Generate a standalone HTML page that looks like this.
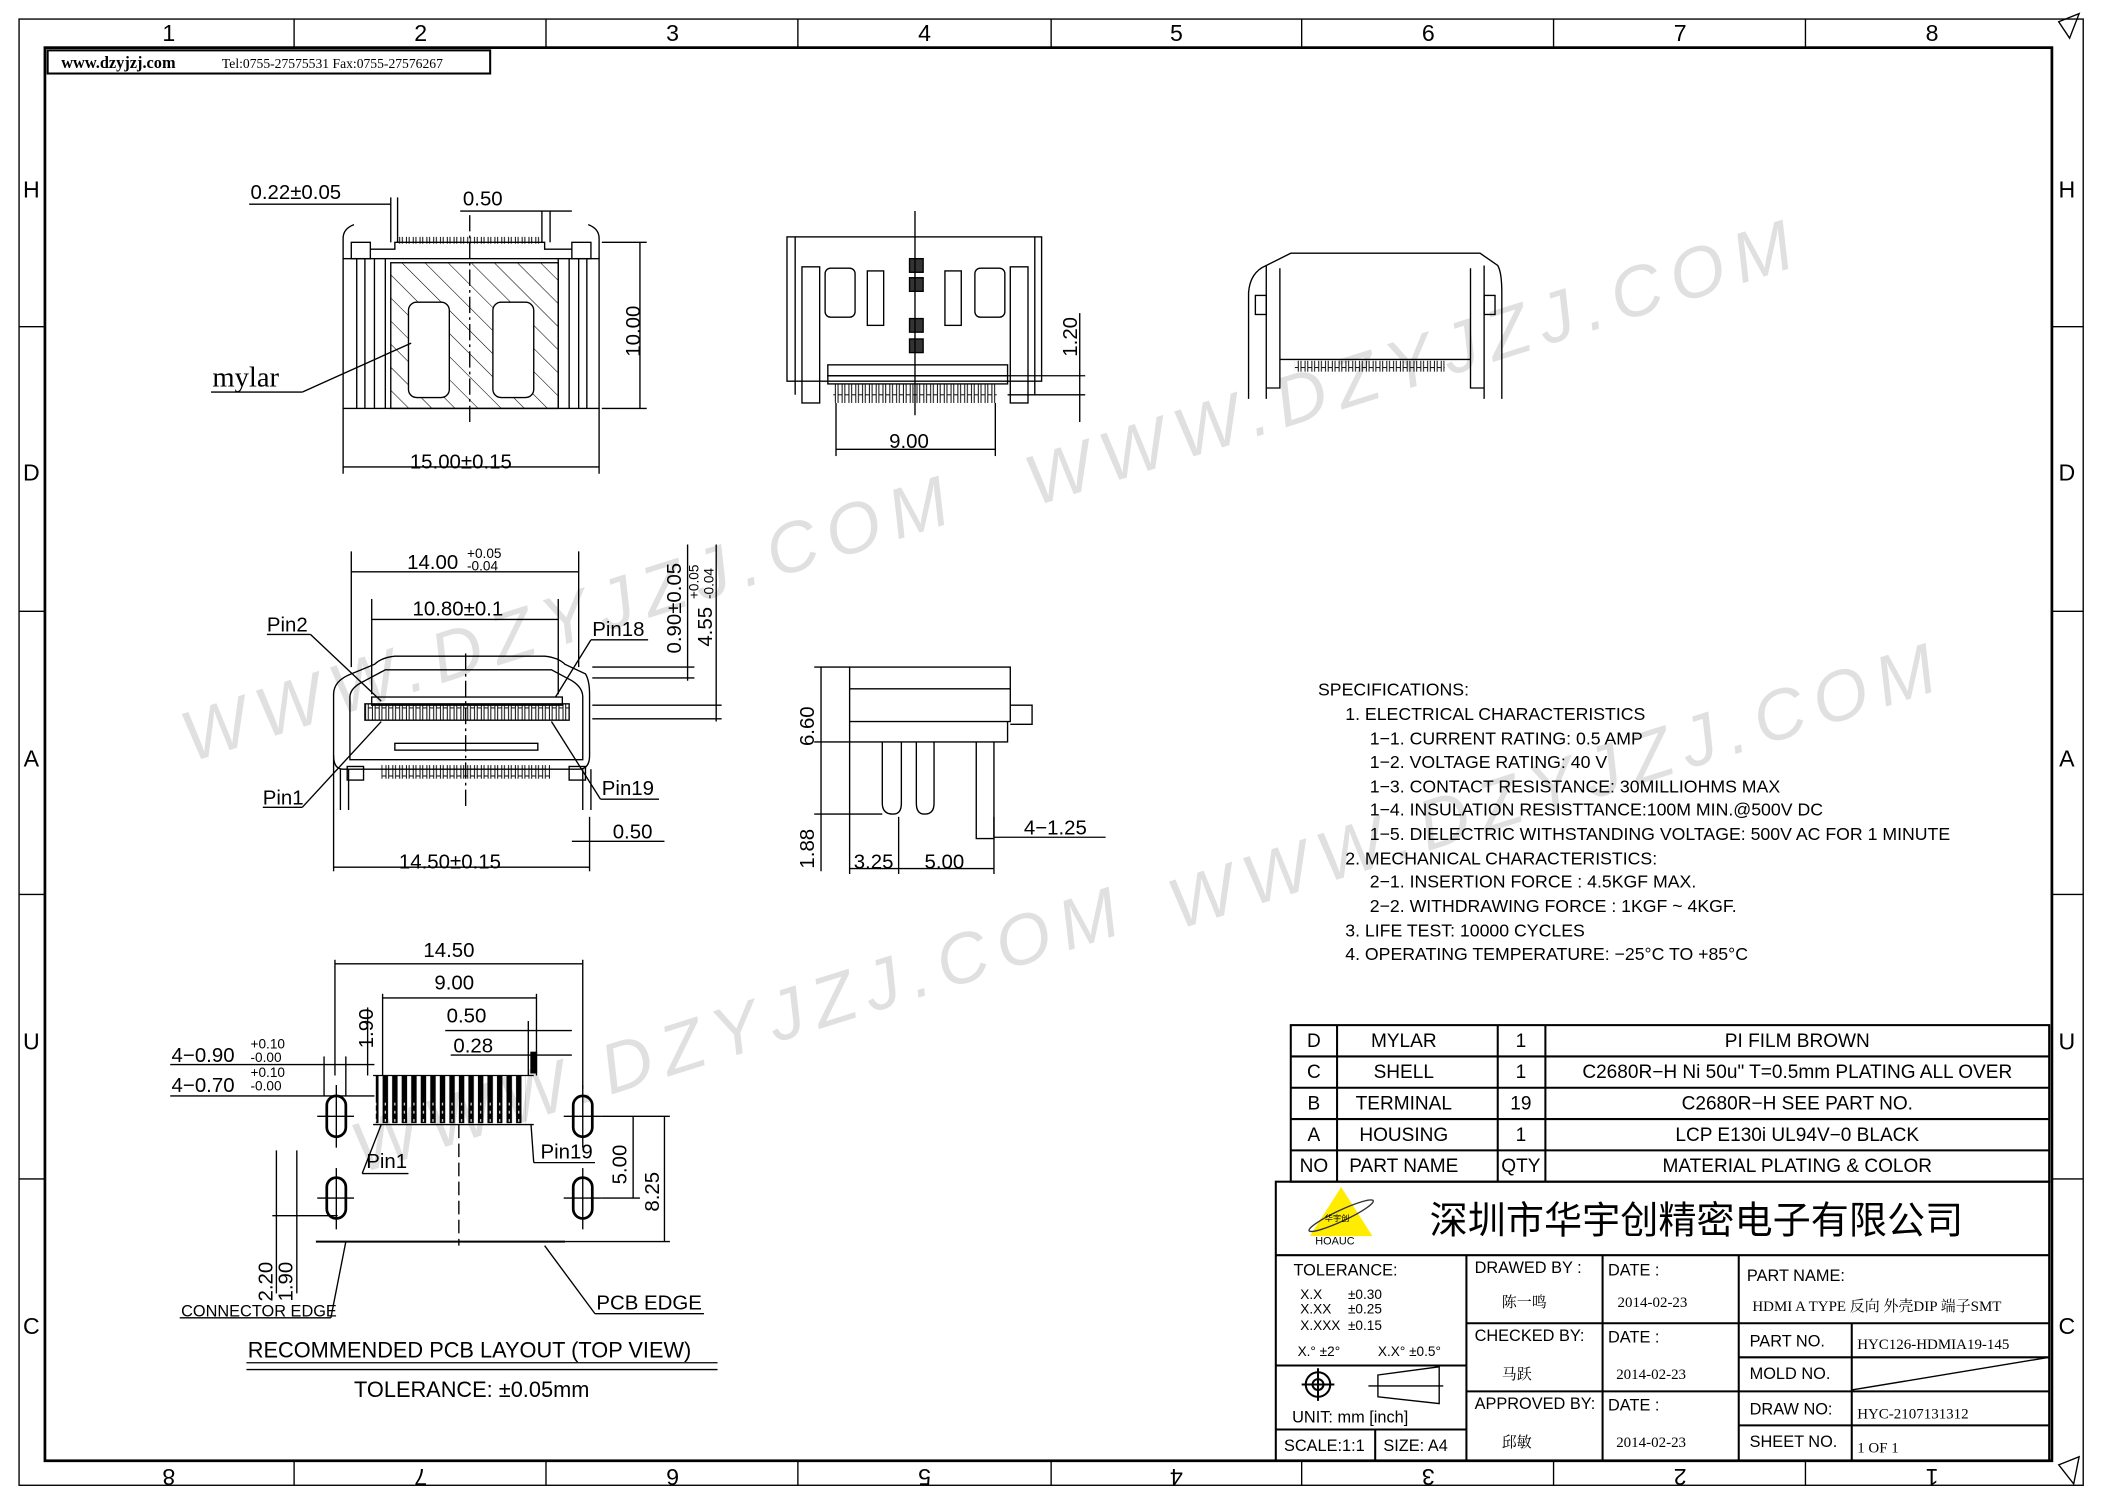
<!DOCTYPE html>
<html><head><meta charset="utf-8"><style>
html,body{margin:0;padding:0;background:#fff}
svg{display:block}
text{font-family:"Liberation Sans","Noto Sans CJK SC",sans-serif;fill:#000}
.s{font-family:"Liberation Serif","Noto Serif CJK SC",serif}
.wm{font-family:"Liberation Sans",sans-serif;font-style:italic;fill:#e0e0e0;font-size:52px;letter-spacing:8px}
</style></head><body>
<svg width="2105" height="1488" viewBox="0 0 1546 1093" preserveAspectRatio="none" xmlns="http://www.w3.org/2000/svg">
<defs>
<pattern id="hatch" width="12" height="12" patternUnits="userSpaceOnUse" patternTransform="rotate(-45)"><line x1="0" y1="0" x2="0" y2="12" stroke="#000" stroke-width="0.8"/></pattern>
<pattern id="teeth" width="5" height="10" patternUnits="userSpaceOnUse"><rect x="0.5" y="0" width="3" height="10" fill="none" stroke="#000" stroke-width="0.7"/></pattern>
<pattern id="pins" width="7" height="40" patternUnits="userSpaceOnUse"><rect x="1" y="0" width="4" height="40" fill="#000"/><line x1="3" y1="10" x2="3" y2="30" stroke="#fff" stroke-dasharray="2 4" stroke-width="0.8"/></pattern>
</defs>
<rect width="1546" height="1093" fill="#fff"/>
<g>
<text class="wm" transform="translate(760,372) rotate(-17.5)">WWW.DZYJZJ.COM</text>
<text class="wm" transform="translate(140,560) rotate(-17.5)">WWW.DZYJZJ.COM</text>
<text class="wm" transform="translate(865,683) rotate(-17.5)">WWW.DZYJZJ.COM</text>
<text class="wm" transform="translate(265,862) rotate(-17.5)">WWW.DZYJZJ.COM</text>
</g>
<g fill="none" stroke="#000">
<rect x="14" y="14" width="1516" height="1077" stroke-width="1"/>
<rect x="33" y="35" width="1474" height="1038" stroke-width="2"/>
<rect x="35" y="37" width="325" height="17" stroke-width="1.5"/>
</g>
<text class="s" x="45" y="50" font-size="12" font-weight="bold">www.dzyjzj.com</text>
<text class="s" x="163" y="50" font-size="10">Tel:0755-27575531  Fax:0755-27576267</text>
<g stroke="#000" stroke-width="1">
<line x1="216" y1="14" x2="216" y2="35"/><line x1="401" y1="14" x2="401" y2="35"/><line x1="586" y1="14" x2="586" y2="35"/><line x1="772" y1="14" x2="772" y2="35"/><line x1="956" y1="14" x2="956" y2="35"/><line x1="1141" y1="14" x2="1141" y2="35"/><line x1="1326" y1="14" x2="1326" y2="35"/>
<line x1="216" y1="1073" x2="216" y2="1091"/><line x1="401" y1="1073" x2="401" y2="1091"/><line x1="586" y1="1073" x2="586" y2="1091"/><line x1="772" y1="1073" x2="772" y2="1091"/><line x1="956" y1="1073" x2="956" y2="1091"/><line x1="1141" y1="1073" x2="1141" y2="1091"/><line x1="1326" y1="1073" x2="1326" y2="1091"/>
<line x1="14" y1="240" x2="33" y2="240"/><line x1="14" y1="449" x2="33" y2="449"/><line x1="14" y1="657" x2="33" y2="657"/><line x1="14" y1="866" x2="33" y2="866"/>
<line x1="1507" y1="240" x2="1530" y2="240"/><line x1="1507" y1="449" x2="1530" y2="449"/><line x1="1507" y1="657" x2="1530" y2="657"/><line x1="1507" y1="866" x2="1530" y2="866"/>
</g>
<polygon points="1512,16 1527,10 1520,28" fill="none" stroke="#000"/>
<polygon points="1512,1076 1527,1070 1523,1090" fill="none" stroke="#000"/>
<g font-size="17" text-anchor="middle">
<text x="124" y="30">1</text><text x="309" y="30">2</text><text x="494" y="30">3</text><text x="679" y="30">4</text><text x="864" y="30">5</text><text x="1049" y="30">6</text><text x="1234" y="30">7</text><text x="1419" y="30">8</text>
<text x="124" y="1091" transform="rotate(180 124 1085)">8</text><text x="309" y="1091" transform="rotate(180 309 1085)">7</text><text x="494" y="1091" transform="rotate(180 494 1085)">6</text><text x="679" y="1091" transform="rotate(180 679 1085)">5</text><text x="864" y="1091" transform="rotate(180 864 1085)">4</text><text x="1049" y="1091" transform="rotate(180 1049 1085)">3</text><text x="1234" y="1091" transform="rotate(180 1234 1085)">2</text><text x="1419" y="1091" transform="rotate(180 1419 1085)">1</text>
<text x="23" y="145">H</text><text x="23" y="353">D</text><text x="23" y="563">A</text><text x="23" y="771">U</text><text x="23" y="980">C</text>
<text x="1518" y="145">H</text><text x="1518" y="353">D</text><text x="1518" y="563">A</text><text x="1518" y="771">U</text><text x="1518" y="980">C</text>
</g>

<g fill="none" stroke="#000" stroke-width="1">
<rect x="252" y="190" width="188" height="110"/>
<line x1="262" y1="190" x2="262" y2="300"/><line x1="268" y1="190" x2="268" y2="300"/><line x1="275" y1="190" x2="275" y2="300"/><line x1="283" y1="190" x2="283" y2="300"/>
<line x1="410" y1="190" x2="410" y2="300"/><line x1="418" y1="190" x2="418" y2="300"/><line x1="425" y1="190" x2="425" y2="300"/><line x1="431" y1="190" x2="431" y2="300"/>
<rect x="287" y="193" width="123" height="107" fill="url(#hatch)"/>
<rect x="300" y="222" width="30" height="70" rx="6" fill="#fff"/>
<rect x="362" y="222" width="30" height="70" rx="6" fill="#fff"/>
<path d="M252,190 V175 Q252,168 260,165 M440,190 V175 Q440,168 432,165"/>
<rect x="258" y="178" width="14" height="12"/><rect x="420" y="178" width="14" height="12"/>
<path d="M272,183 H290 V178 H400 V183 H420"/>
<rect x="292" y="174" width="106" height="5" fill="url(#teeth)" stroke="none"/>
<line x1="345" y1="158" x2="345" y2="310" stroke-dasharray="12 3 2 3"/>
<line x1="252" y1="300" x2="252" y2="348"/><line x1="440" y1="300" x2="440" y2="348"/>
<line x1="252" y1="343" x2="440" y2="343"/>
<line x1="442" y1="178" x2="475" y2="178"/><line x1="442" y1="300" x2="475" y2="300"/><line x1="470" y1="178" x2="470" y2="300"/>
<line x1="287" y1="145" x2="287" y2="178"/><line x1="292" y1="145" x2="292" y2="178"/><line x1="183" y1="150" x2="287" y2="150"/>
<line x1="398" y1="155" x2="398" y2="178"/><line x1="404" y1="155" x2="404" y2="178"/><line x1="338" y1="155" x2="420" y2="155"/>
<line x1="155" y1="288" x2="222" y2="288"/><line x1="222" y1="288" x2="302" y2="252"/>
</g>
<g font-size="15">
<text x="184" y="146">0.22±0.05</text><text x="340" y="151">0.50</text>
<text x="301" y="344">15.00±0.15</text>
<text x="470" y="262" transform="rotate(-90 470 262)">10.00</text>
<text class="s" x="156" y="284" font-size="21">mylar</text>
</g>

<g fill="none" stroke="#000" stroke-width="1">
<rect x="578" y="174" width="187" height="106"/>
<line x1="584" y1="174" x2="584" y2="290"/><line x1="760" y1="174" x2="760" y2="290"/>
<rect x="589" y="196" width="13" height="100"/><rect x="742" y="196" width="13" height="100"/>
<rect x="606" y="197" width="22" height="36" rx="4"/><rect x="716" y="197" width="22" height="36" rx="4"/>
<rect x="637" y="199" width="12" height="40"/><rect x="694" y="199" width="12" height="40"/>
<rect x="668" y="190" width="10" height="10" fill="#333"/><rect x="668" y="204" width="10" height="10" fill="#333"/><rect x="668" y="234" width="10" height="10" fill="#333"/><rect x="668" y="249" width="10" height="10" fill="#333"/>
<rect x="608" y="268" width="132" height="8"/><rect x="608" y="276" width="132" height="6"/>
<rect x="612" y="282" width="120" height="14" fill="url(#teeth)" stroke="none"/>
<line x1="672" y1="155" x2="672" y2="305"/>
<line x1="614" y1="296" x2="614" y2="335"/><line x1="731" y1="296" x2="731" y2="335"/><line x1="614" y1="330" x2="731" y2="330"/>
<line x1="740" y1="276" x2="797" y2="276"/><line x1="740" y1="290" x2="797" y2="290"/><line x1="793" y1="230" x2="793" y2="310"/>
</g>
<text x="653" y="329" font-size="15">9.00</text>
<text x="791" y="262" font-size="15" transform="rotate(-90 791 262)">1.20</text>

<g fill="none" stroke="#000" stroke-width="1">
<path d="M917,293 V215 Q918,200 930,195 L948,186 H1087 L1100,195 Q1103,200 1103,215 V293"/>
<line x1="930" y1="195" x2="930" y2="293"/><line x1="1090" y1="195" x2="1090" y2="293"/>
<path d="M930,285 H940 V197 M1090,285 H1080 V197"/>
<path d="M940,264 H1080"/>
<rect x="951" y="265" width="110" height="8" fill="url(#teeth)" stroke="none"/>
<rect x="922" y="217" width="8" height="14"/><rect x="1090" y="217" width="8" height="14"/>
</g>

<g fill="none" stroke="#000" stroke-width="1">
<path d="M252,565 Q245,565 245,555 V510 Q245,500 258,495 L275,488 Q280,483 290,482 H400 Q410,483 415,488 L430,495 Q433,500 433,510 V555 Q433,565 425,565 Z"/>
<path d="M257,558 V512 Q257,505 268,500 L283,492 H405 L420,500 Q428,505 428,512 V558 Z"/>
<rect x="268" y="517" width="150" height="12" fill="url(#teeth)"/>
<rect x="273" y="512" width="140" height="6"/>
<rect x="290" y="546" width="105" height="5"/>
<rect x="280" y="562" width="125" height="10" fill="url(#teeth)" stroke="none"/>
<rect x="255" y="563" width="12" height="10"/><rect x="418" y="563" width="12" height="10"/>
<line x1="250" y1="565" x2="250" y2="595"/><line x1="256" y1="565" x2="256" y2="595"/><line x1="428" y1="565" x2="428" y2="595"/><line x1="434" y1="565" x2="434" y2="595"/>
<line x1="342" y1="480" x2="342" y2="595" stroke-dasharray="12 3 2 3"/>
<line x1="245" y1="555" x2="245" y2="640"/><line x1="433" y1="600" x2="433" y2="640"/><line x1="245" y1="637" x2="433" y2="637"/>
<line x1="258" y1="405" x2="258" y2="490"/><line x1="425" y1="405" x2="425" y2="490"/><line x1="258" y1="420" x2="425" y2="420"/>
<line x1="273" y1="440" x2="273" y2="510"/><line x1="410" y1="440" x2="410" y2="510"/><line x1="273" y1="455" x2="410" y2="455"/>
<line x1="196" y1="466" x2="228" y2="466"/><line x1="228" y1="466" x2="280" y2="515"/>
<line x1="434" y1="470" x2="476" y2="470"/><line x1="434" y1="470" x2="408" y2="512"/>
<line x1="193" y1="593" x2="222" y2="593"/><line x1="222" y1="593" x2="280" y2="530"/>
<line x1="441" y1="587" x2="484" y2="587"/><line x1="441" y1="587" x2="405" y2="530"/>
<line x1="420" y1="618" x2="488" y2="618"/>
<line x1="435" y1="490" x2="510" y2="490"/><line x1="435" y1="498" x2="510" y2="498"/><line x1="435" y1="518" x2="530" y2="518"/><line x1="435" y1="528" x2="530" y2="528"/>
<line x1="505" y1="400" x2="505" y2="500"/><line x1="526" y1="400" x2="526" y2="530"/>
</g>
<g font-size="15">
<text x="299" y="418">14.00</text><text x="343" y="410" font-size="10">+0.05</text><text x="343" y="419" font-size="10">-0.04</text>
<text x="303" y="452">10.80±0.1</text>
<text x="196" y="464">Pin2</text><text x="435" y="467">Pin18</text>
<text x="193" y="591">Pin1</text><text x="442" y="584">Pin19</text>
<text x="450" y="616">0.50</text>
<text x="293" y="638">14.50±0.15</text>
<text x="500" y="480" fill="#666" transform="rotate(-90 500 480)">0.90±0.05</text>
<text x="523" y="475" transform="rotate(-90 523 475)">4.55</text><text x="513" y="440" font-size="10" transform="rotate(-90 513 440)">+0.05</text><text x="524" y="440" font-size="10" transform="rotate(-90 524 440)">-0.04</text>
</g>

<g fill="none" stroke="#000" stroke-width="1">
<rect x="624" y="490" width="118" height="40"/>
<line x1="624" y1="506" x2="742" y2="506"/>
<path d="M742,518 H758 V532 H742"/>
<path d="M624,530 V545 H740 V530"/>
<path d="M648,545 V590 Q648,598 656,598 Q662,598 662,590 V545"/>
<path d="M673,545 V590 Q673,598 679,598 Q686,598 686,590 V545"/>
<path d="M717,545 V616 H730 V545"/>
<line x1="598" y1="490" x2="624" y2="490"/><line x1="598" y1="545" x2="624" y2="545"/><line x1="598" y1="598" x2="648" y2="598"/>
<line x1="603" y1="490" x2="603" y2="640"/>
<line x1="624" y1="545" x2="624" y2="642"/><line x1="660" y1="600" x2="660" y2="642"/><line x1="730" y1="600" x2="730" y2="642"/>
<line x1="624" y1="638" x2="730" y2="638"/>
<line x1="730" y1="615" x2="812" y2="615"/>
</g>
<g font-size="15">
<text x="598" y="548" fill="#666" transform="rotate(-90 598 548)">6.60</text>
<text x="598" y="638" fill="#666" transform="rotate(-90 598 638)">1.88</text>
<text x="627" y="638">3.25</text><text x="679" y="638">5.00</text><text x="752" y="613">4−1.25</text>
</g>

<g fill="none" stroke="#000" stroke-width="1">
<rect x="276" y="790" width="110" height="35" fill="url(#pins)" stroke="none"/>
<line x1="274" y1="790" x2="392" y2="790"/><line x1="274" y1="826" x2="392" y2="826"/>
<rect x="390" y="773" width="4" height="15" fill="#000"/>
<rect x="240" y="805" width="14" height="30" rx="7" stroke-width="2"/><rect x="421" y="805" width="14" height="30" rx="7" stroke-width="2"/>
<rect x="240" y="865" width="14" height="30" rx="7" stroke-width="2"/><rect x="421" y="865" width="14" height="30" rx="7" stroke-width="2"/>
<line x1="233" y1="820" x2="260" y2="820"/><line x1="414" y1="820" x2="442" y2="820"/><line x1="233" y1="880" x2="260" y2="880"/><line x1="414" y1="880" x2="442" y2="880"/>
<line x1="247" y1="797" x2="247" y2="843"/><line x1="428" y1="797" x2="428" y2="843"/><line x1="247" y1="858" x2="247" y2="903"/><line x1="428" y1="858" x2="428" y2="903"/>
<line x1="337" y1="826" x2="337" y2="915" stroke-dasharray="10 4"/>
<line x1="232" y1="912" x2="415" y2="912" stroke-width="1.5"/><line x1="200" y1="893" x2="248" y2="893"/>
<line x1="246" y1="705" x2="246" y2="790"/><line x1="428" y1="705" x2="428" y2="800"/><line x1="246" y1="708" x2="428" y2="708"/>
<line x1="281" y1="730" x2="281" y2="790"/><line x1="394" y1="730" x2="394" y2="790"/><line x1="281" y1="733" x2="394" y2="733"/>
<line x1="327" y1="757" x2="420" y2="757"/><line x1="388" y1="750" x2="388" y2="790"/>
<line x1="331" y1="775" x2="420" y2="775"/>
<line x1="125" y1="782" x2="275" y2="782"/><line x1="125" y1="805" x2="275" y2="805"/>
<line x1="238" y1="776" x2="238" y2="805"/><line x1="254" y1="776" x2="254" y2="805"/>
<line x1="270" y1="740" x2="270" y2="790"/>
<line x1="266" y1="862" x2="300" y2="862"/><line x1="266" y1="862" x2="280" y2="826"/>
<line x1="392" y1="854" x2="437" y2="854"/><line x1="392" y1="854" x2="390" y2="826"/>
<line x1="442" y1="880" x2="470" y2="880"/><line x1="442" y1="820" x2="492" y2="820"/>
<line x1="465" y1="820" x2="465" y2="880"/><line x1="488" y1="820" x2="488" y2="912"/><line x1="415" y1="912" x2="492" y2="912"/>
<line x1="203" y1="845" x2="203" y2="950"/><line x1="218" y1="845" x2="218" y2="950"/>
<line x1="132" y1="968" x2="243" y2="968"/><line x1="243" y1="968" x2="254" y2="912"/>
<line x1="437" y1="965" x2="517" y2="965"/><line x1="437" y1="965" x2="400" y2="915"/>
<line x1="181" y1="1001" x2="527" y2="1001"/><line x1="181" y1="1006" x2="527" y2="1006"/>
</g>
<g font-size="15">
<text x="311" y="703">14.50</text><text x="319" y="727">9.00</text><text x="328" y="751">0.50</text><text x="333" y="773">0.28</text>
<text x="274" y="770" transform="rotate(-90 274 770)">1.90</text>
<text x="126" y="780">4−0.90</text><text x="184" y="770" font-size="10">+0.10</text><text x="184" y="780" font-size="10">-0.00</text>
<text x="126" y="802">4−0.70</text><text x="184" y="791" font-size="10">+0.10</text><text x="184" y="801" font-size="10">-0.00</text>
<text x="269" y="858">Pin1</text><text x="397" y="851">Pin19</text>
<text x="460" y="870" transform="rotate(-90 460 870)">5.00</text>
<text x="484" y="890" transform="rotate(-90 484 890)">8.25</text>
<text x="200" y="956" transform="rotate(-90 200 956)">2.20</text>
<text x="215" y="956" transform="rotate(-90 215 956)">1.90</text>
<text x="133" y="967" font-size="12">CONNECTOR EDGE</text>
<text x="438" y="962">PCB EDGE</text>
<text x="182" y="997" font-size="16">RECOMMENDED PCB LAYOUT (TOP VIEW)</text>
<text x="260" y="1026" font-size="16">TOLERANCE: ±0.05mm</text>
</g>

<g font-size="13">
<text x="968" y="511">SPECIFICATIONS:</text>
<text x="988" y="529">1. ELECTRICAL CHARACTERISTICS</text>
<text x="1006" y="547">1−1. CURRENT RATING: 0.5 AMP</text>
<text x="1006" y="564">1−2. VOLTAGE RATING: 40 V</text>
<text x="1006" y="582">1−3. CONTACT RESISTANCE: 30MILLIOHMS MAX</text>
<text x="1006" y="599">1−4. INSULATION RESISTTANCE:100M MIN.@500V DC</text>
<text x="1006" y="617">1−5. DIELECTRIC WITHSTANDING VOLTAGE: 500V AC FOR 1 MINUTE</text>
<text x="988" y="635">2. MECHANICAL CHARACTERISTICS:</text>
<text x="1006" y="652">2−1. INSERTION FORCE : 4.5KGF MAX.</text>
<text x="1006" y="670">2−2. WITHDRAWING FORCE : 1KGF ~ 4KGF.</text>
<text x="988" y="688">3. LIFE TEST: 10000 CYCLES</text>
<text x="988" y="705">4. OPERATING TEMPERATURE: −25°C TO +85°C</text>
</g>

<g fill="none" stroke="#000" stroke-width="1.5">
<rect x="948" y="753" width="557" height="115"/>
<line x1="948" y1="776" x2="1505" y2="776"/><line x1="948" y1="799" x2="1505" y2="799"/><line x1="948" y1="822" x2="1505" y2="822"/><line x1="948" y1="845" x2="1505" y2="845"/>
<line x1="982" y1="753" x2="982" y2="868"/><line x1="1100" y1="753" x2="1100" y2="868"/><line x1="1135" y1="753" x2="1135" y2="868"/>
</g>
<g font-size="14" text-anchor="middle">
<text x="965" y="769">D</text><text x="1031" y="769">MYLAR</text><text x="1117" y="769">1</text><text x="1320" y="769">PI FILM BROWN</text>
<text x="965" y="792">C</text><text x="1031" y="792">SHELL</text><text x="1117" y="792">1</text><text x="1320" y="792">C2680R−H Ni 50u" T=0.5mm PLATING ALL OVER</text>
<text x="965" y="815">B</text><text x="1031" y="815">TERMINAL</text><text x="1117" y="815">19</text><text x="1320" y="815">C2680R−H SEE PART NO.</text>
<text x="965" y="838">A</text><text x="1031" y="838">HOUSING</text><text x="1117" y="838">1</text><text x="1320" y="838">LCP E130i UL94V−0 BLACK</text>
<text x="965" y="861">NO</text><text x="1031" y="861">PART NAME</text><text x="1117" y="861">QTY</text><text x="1320" y="861">MATERIAL PLATING &amp; COLOR</text>
</g>

<g fill="none" stroke="#000" stroke-width="1.5">
<rect x="937" y="868" width="568" height="205"/>
<line x1="937" y1="922" x2="1505" y2="922"/>
<line x1="1077" y1="922" x2="1077" y2="1073"/><line x1="1177" y1="922" x2="1177" y2="1073"/><line x1="1277" y1="922" x2="1277" y2="1073"/>
<line x1="1077" y1="972" x2="1505" y2="972"/><line x1="1077" y1="1022" x2="1505" y2="1022"/>
<line x1="1277" y1="997" x2="1505" y2="997"/><line x1="1277" y1="1047" x2="1505" y2="1047"/>
<line x1="1360" y1="972" x2="1360" y2="1073"/>
<line x1="1360" y1="1021" x2="1505" y2="997" stroke-width="1"/>
<line x1="937" y1="1003" x2="1077" y2="1003"/><line x1="937" y1="1050" x2="1077" y2="1050"/>
<line x1="1010" y1="1050" x2="1010" y2="1073"/>
<circle cx="968" cy="1017" r="9"/><circle cx="968" cy="1017" r="4"/><line x1="956" y1="1017" x2="980" y2="1017"/><line x1="968" y1="1005" x2="968" y2="1029"/>
<path d="M1005,1018 H1060 M1012,1010 L1057,1004 V1031 L1012,1026 Z" stroke-width="1"/>
</g>
<polygon points="985,872 962,908 1008,908" fill="#ffec00"/>
<ellipse cx="985" cy="893" rx="26" ry="4" fill="none" stroke="#333" transform="rotate(-25 985 893)"/>
<text x="973" y="897" font-size="6" fill="#800">华宇创</text>
<text x="966" y="914" font-size="8">HOAUC</text>
<text x="1050" y="906" font-size="28" font-family="'Noto Sans CJK SC',sans-serif">深圳市华宇创精密电子有限公司</text>
<g font-size="12">
<text x="950" y="937">TOLERANCE:</text>
<text x="955" y="954" font-size="10">X.X</text><text x="990" y="954" font-size="10">±0.30</text>
<text x="955" y="965" font-size="10">X.XX</text><text x="990" y="965" font-size="10">±0.25</text>
<text x="955" y="977" font-size="10">X.XXX</text><text x="990" y="977" font-size="10">±0.15</text>
<text x="953" y="996" font-size="10">X.° ±2°</text><text x="1012" y="996" font-size="10">X.X° ±0.5°</text>
<text x="949" y="1045">UNIT: mm [inch]</text>
<text x="943" y="1066">SCALE:1:1</text><text x="1016" y="1066">SIZE: A4</text>
<text x="1083" y="935">DRAWED BY :</text><text x="1181" y="937">DATE :</text><text x="1283" y="941">PART NAME:</text>
<text x="1083" y="985">CHECKED BY:</text><text x="1181" y="986">DATE :</text><text x="1285" y="989">PART NO.</text>
<text x="1083" y="1035">APPROVED BY:</text><text x="1181" y="1036">DATE :</text><text x="1285" y="1013">MOLD NO.</text>
<text x="1285" y="1039">DRAW NO:</text><text x="1285" y="1063">SHEET NO.</text>
</g>
<g class="s" font-size="11">
<text class="s" x="1103" y="960">陈一鸣</text><text class="s" x="1188" y="960">2014-02-23</text>
<text class="s" x="1103" y="1013">马跃</text><text class="s" x="1187" y="1013">2014-02-23</text>
<text class="s" x="1103" y="1063">邱敏</text><text class="s" x="1187" y="1063">2014-02-23</text>
<text class="s" x="1287" y="963">HDMI A TYPE 反向 外壳DIP 端子SMT</text>
<text class="s" x="1364" y="991">HYC126-HDMIA19-145</text>
<text class="s" x="1364" y="1042">HYC-2107131312</text>
<text class="s" x="1364" y="1067">1 OF 1</text>
</g>
</svg>
</body></html>
